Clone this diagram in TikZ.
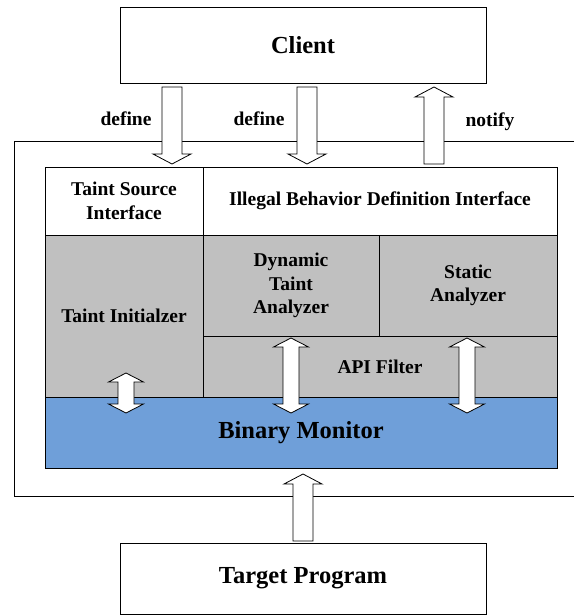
\documentclass[tikz,border=0pt]{standalone}
\usepackage{fontspec}
\setmainfont{Liberation Serif}
\usetikzlibrary{calc}

\definecolor{cellgray}{RGB}{192,192,192}
\definecolor{monblue}{RGB}{111,159,217}
\newcommand{\lblfont}{\fontsize{19.5}{23.5}\selectfont\bfseries}
\newcommand{\bigfont}{\fontsize{24.5}{28}\selectfont\bfseries}

% block arrow: from #1 to #2 (head at #2)
\newcommand{\fatarrow}[2]{%
  \coordinate (fb) at ($(#2)!10pt!(#1)$);
  \draw[fat] ($(#1)!10pt!90:(#2)$) -- ($(fb)!10pt!90:(#2)$) -- ($(fb)!19pt!90:(#2)$)
    -- (#2) -- ($(fb)!19pt!-90:(#2)$) -- ($(fb)!10pt!-90:(#2)$) -- ($(#1)!10pt!-90:(#2)$) -- cycle;}
% block arrow with two heads
\newcommand{\dblarrow}[2]{%
  \coordinate (fa) at ($(#1)!9pt!(#2)$);
  \coordinate (fb) at ($(#2)!9pt!(#1)$);
  \draw[fat] (#1) -- ($(fa)!17.5pt!90:(#2)$) -- ($(fa)!8pt!90:(#2)$) -- ($(fb)!8pt!-90:(#1)$)
    -- ($(fb)!17.5pt!-90:(#1)$) -- (#2) -- ($(fb)!17.5pt!90:(#1)$) -- ($(fb)!8pt!90:(#1)$)
    -- ($(fa)!8pt!-90:(#2)$) -- ($(fa)!17.5pt!-90:(#2)$) -- cycle;}

\begin{document}
\begin{tikzpicture}[x=1pt,y=-1pt,
    cell/.style={draw,line width=0.8pt,outer sep=0pt,inner sep=0pt,align=center,font=\lblfont},
    bigbox/.style={cell,font=\bigfont},
    fat/.style={draw,fill=white,line width=0.8pt,line join=miter},
    lbl/.style={font=\lblfont,inner sep=0pt}
]
\useasboundingbox (0,0) rectangle (574,615);
% outer frame
\draw[line width=0.8pt] (574,141) -- (14,141) -- (14,496) -- (574,496);

\node[bigbox,minimum width=366pt,minimum height=76pt] (client) at (303,45) {Client};
\node[bigbox,minimum width=366pt,minimum height=71pt] (target) at (303,578.5) {Target Program};

\node[cell,minimum width=158pt,minimum height=68pt] (tsi) at (124,201) {Taint Source\\Interface};
\node[cell,minimum width=354pt,minimum height=68pt] (ibdi) at (380,201) {Illegal Behavior Definition Interface};
\node[cell,fill=cellgray,minimum width=158pt,minimum height=162pt] (tinit) at (124,316) {Taint Initialzer};
\node[cell,fill=cellgray,minimum width=176pt,minimum height=101pt] (dta) at (291,285.5) {Dynamic\\Taint\\Analyzer};
\node[cell,fill=cellgray,minimum width=178pt,minimum height=101pt] (sa) at (468,285.5) {Static\\Analyzer};
\node[cell,fill=cellgray,minimum width=354pt,minimum height=61pt] (api) at (380,366.5) {API Filter};
\node[bigbox,fill=monblue,minimum width=512pt,minimum height=71pt] (bm) at (301,432.5) {Binary Monitor};

\node[lbl,anchor=base] (def1) at (126,125) {define};
\node[lbl,anchor=base] (def2) at (259,125) {define};
\node[lbl,anchor=base] (ntf) at (490,126) {notify};

\coordinate (d1a) at (172,87);  \coordinate (d1b) at (172,164);
\coordinate (d2a) at (307,87);  \coordinate (d2b) at (307,164);
\coordinate (nta) at (434,164); \coordinate (ntb) at (434,87);
\coordinate (tpa) at (303,541); \coordinate (tpb) at (303,474);
\coordinate (tia) at (126,373); \coordinate (tib) at (126,413);
\coordinate (dya) at (291,338); \coordinate (dyb) at (291,413);
\coordinate (sta) at (467,338); \coordinate (stb) at (467,413);

\fatarrow{d1a}{d1b}
\fatarrow{d2a}{d2b}
\fatarrow{nta}{ntb}
\fatarrow{tpa}{tpb}
\dblarrow{tia}{tib}
\dblarrow{dya}{dyb}
\dblarrow{sta}{stb}
\end{tikzpicture}
\end{document}
